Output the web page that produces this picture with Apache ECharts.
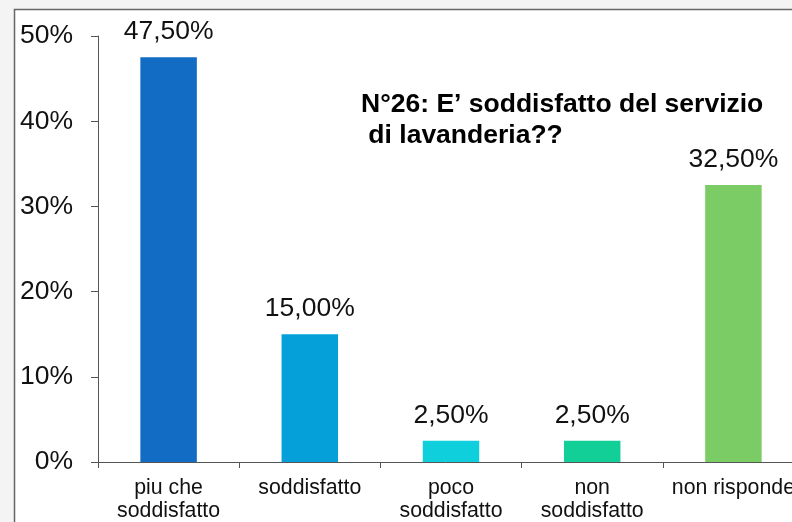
<!DOCTYPE html>
<html>
<head>
<meta charset="utf-8">
<script src="https://cdn.jsdelivr.net/npm/echarts@6/dist/echarts.min.js"></script>
<style>
  html, body { margin: 0; padding: 0; background: #fff; }
  #chart { width: 792px; height: 522px; }
</style>
</head>
<body>
<div id="chart"></div>
<script>
// categories + values
const categories = ['piu che\nsoddisfatto', 'soddisfatto', 'poco\nsoddisfatto', 'non\nsoddisfatto', 'non risponde']
const values = [47.5, 15, 2.5, 2.5, 32.5]
const barColors = ['#126CC4', '#05A0DA', '#0ECFDB', '#12CF98', '#7CCC66']
const yTicks = [0, 10, 20, 30, 40, 50]
const titleText = 'N°26: E’ soddisfatto del servizio\n di lavanderia??'

const font = '"Liberation Sans", Arial, sans-serif'

const chart = echarts.init(document.getElementById('chart'))

chart.setOption({
    animation: false,
    backgroundColor: '#fff',
    title: {
        text: titleText,
        left: 361,
        top: 89,
        padding: 0,
        textStyle: {
            fontFamily: font,
            fontSize: 26.5,
            fontWeight: 'bold',
            color: '#000',
            lineHeight: 31
        }
    },
    graphic: [
        // slide background strip and the frame around the chart
        { type: 'rect', z: -1, shape: { x: 0, y: 0, width: 14, height: 522 }, style: { fill: '#f4f4f4' } },
        { type: 'rect', z: -1, shape: { x: 0, y: 0, width: 792, height: 9 }, style: { fill: '#f4f4f4' } },
        { type: 'rect', shape: { x: 14.5, y: 9.5, width: 800, height: 600 }, style: { fill: 'none', stroke: '#666', lineWidth: 1.5 } }
    ],
    grid: {
        left: 98,
        top: 36,
        right: -12,
        bottom: 60,
        containLabel: false,
        outerBoundsMode: 'none'
    },
    xAxis: {
        type: 'category',
        data: categories,
        axisLine: { lineStyle: { color: '#555', width: 1 } },
        axisTick: { show: true, length: 6, lineStyle: { color: '#555' } },
        axisLabel: {
            interval: 0,
            margin: 15,
            fontFamily: font,
            fontSize: 21.3,
            lineHeight: 23,
            color: '#111'
        }
    },
    yAxis: {
        type: 'value',
        min: yTicks[0],
        max: yTicks[yTicks.length - 1],
        interval: 10,
        splitLine: { show: false },
        axisLine: { show: true, lineStyle: { color: '#555', width: 1 } },
        axisTick: { show: true, length: 7, lineStyle: { color: '#555' } },
        axisLabel: {
            margin: 25,
            fontFamily: font,
            fontSize: 26.5,
            color: '#111',
            formatter: '{value}%'
        }
    },
    series: [
        {
            type: 'bar',
            barWidth: '40%',
            data: values.map((v, i) => ({ value: v, itemStyle: { color: barColors[i] } })),
            label: {
                show: true,
                position: 'top',
                distance: 12,
                fontFamily: font,
                fontSize: 26.5,
                color: '#111',
                formatter: p => p.value.toFixed(2).replace('.', ',') + '%'
            }
        }
    ]
})
</script>
</body>
</html>
